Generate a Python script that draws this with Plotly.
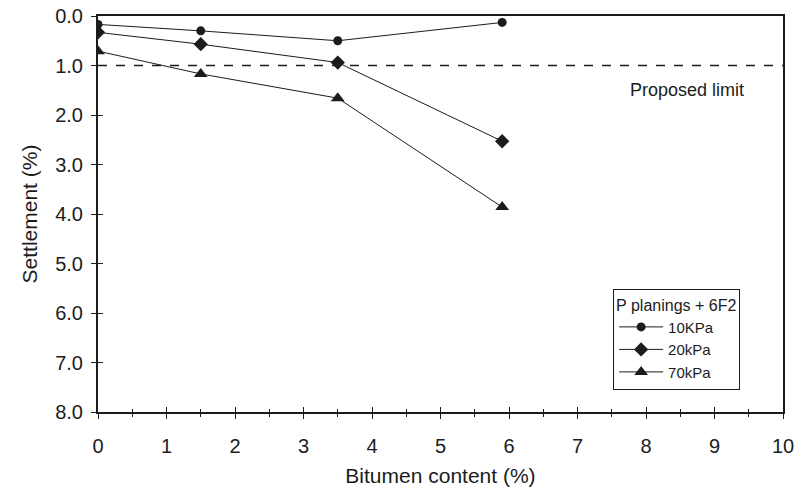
import plotly.graph_objects as go

# Bitumen content (%) at which each mix was tested
bitumen = [0, 1.5, 3.5, 5.9]

# Settlement (%) for each applied pressure
settle_10kpa = [0.17, 0.30, 0.50, 0.13]
settle_20kpa = [0.33, 0.57, 0.94, 2.53]
settle_70kpa = [0.71, 1.17, 1.66, 3.86]

series_names = ["10KPa", "20kPa", "70kPa"]
series_symbols = ["circle", "diamond", "triangle-up"]
series_sizes = [9, 11, 12]

limit_value = 1.0
limit_label = "Proposed limit"

x_ticks = list(range(0, 11))
y_ticks = [0, 1, 2, 3, 4, 5, 6, 7, 8]

ink = "#1c1c1c"
font_family = "Liberation Sans, Arial, sans-serif"

fig = go.Figure()

for name, ys, sym, size in zip(series_names,
                               [settle_10kpa, settle_20kpa, settle_70kpa],
                               series_symbols, series_sizes):
    fig.add_trace(go.Scatter(
        x=bitumen, y=ys, name=name, mode="lines+markers",
        line=dict(color=ink, width=1),
        marker=dict(symbol=sym, size=size, color=ink),
    ))

# Dashed limit line across the full width
fig.add_hline(y=limit_value, line=dict(color=ink, width=1.5, dash="dash"))
fig.add_annotation(x=8.6, y=limit_value + 0.5, text=limit_label,
                   showarrow=False, xref="x", yref="y",
                   font=dict(size=18, color=ink, family=font_family))

axis_common = dict(linecolor=ink, linewidth=2, tickcolor=ink, tickwidth=1,
                   showgrid=False, zeroline=False, automargin=False,
                   tickfont=dict(size=20))

fig.update_layout(
    width=812, height=497,
    margin=dict(l=98, r=29, t=16, b=85, autoexpand=False),
    paper_bgcolor="white", plot_bgcolor="white",
    font=dict(family=font_family, size=18, color=ink),
    xaxis=dict(range=[0, 10], tickvals=x_ticks, ticks="outside", ticklen=5,
               showline=True, mirror=True,
               minor=dict(dtick=0.5, ticks="outside", ticklen=3,
                          tickcolor=ink, tickwidth=1),
               ticklabelstandoff=10,
               title=dict(text="Bitumen content (%)", standoff=12,
                          font=dict(size=21)),
               **axis_common),
    yaxis=dict(range=[8, 0], tickvals=y_ticks, tickformat=".1f",
               ticks="outside", ticklen=5, showline=True, mirror=True,
               ticklabelstandoff=4,
               title=dict(text="Settlement (%)", standoff=12,
                          font=dict(size=21)),
               **axis_common),
    # Overlay axes supply the inner half of the crossing tick marks
    xaxis2=dict(overlaying="x", matches="x", range=[0, 10], tickvals=x_ticks,
                ticks="inside", ticklen=5, tickcolor=ink, tickwidth=1,
                showticklabels=False, showline=False, showgrid=False,
                zeroline=False, side="bottom", automargin=False,
                minor=dict(dtick=0.5, ticks="inside", ticklen=3,
                           tickcolor=ink, tickwidth=1)),
    yaxis2=dict(overlaying="y", matches="y", range=[8, 0], tickvals=y_ticks,
                ticks="inside", ticklen=5, tickcolor=ink, tickwidth=1,
                showticklabels=False, showline=False, showgrid=False,
                zeroline=False, side="left", automargin=False),
    legend=dict(x=0.752, y=0.311, xanchor="left", yanchor="top",
                bgcolor="white", bordercolor=ink, borderwidth=1,
                title=dict(text="P planings + 6F2", font=dict(size=16)),
                font=dict(size=15), tracegroupgap=0, itemwidth=44),
    showlegend=True,
)

# Invisible trace that binds the overlay axes so they are rendered
fig.add_trace(go.Scatter(x=[None], y=[None], xaxis="x2", yaxis="y2",
                         showlegend=False, hoverinfo="skip"))

fig.write_html("out.html")
